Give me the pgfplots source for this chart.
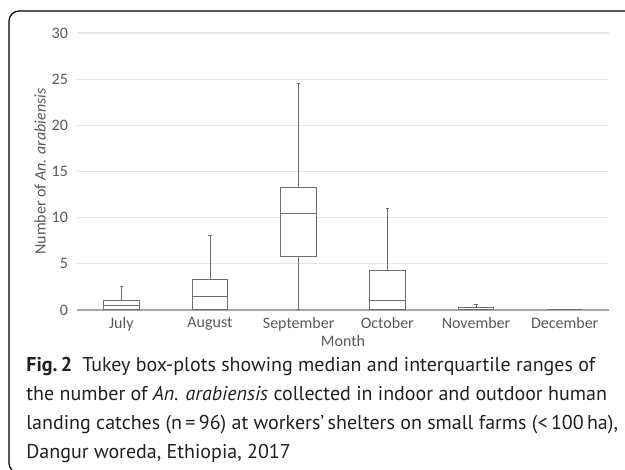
\documentclass[border=0pt]{standalone}
\usepackage{fontspec}
\setmainfont{Carlito}
\newfontfamily\capfont{PT Sans}
\usepackage{pgfplots}
\pgfplotsset{compat=1.18}
\usepgfplotslibrary{statistics}
\definecolor{gridc}{HTML}{E6E6E6}
\definecolor{axc}{HTML}{A6A6A6}
\definecolor{boxc}{HTML}{6E6E6E}
\definecolor{txt}{HTML}{595959}
\definecolor{captxt}{HTML}{231F20}

\begin{document}
\begin{tikzpicture}
\useasboundingbox (0,0) rectangle (312.5pt,235pt);
% rounded frame (left and top edges)
\draw[line width=0.6pt, rounded corners=5pt] (330pt,229.5pt) -- (4.5pt,229.5pt) -- (4.5pt,-1.5pt) -- (30pt,-1.5pt);
\begin{axis}[
  at={(38.5pt,80pt)}, anchor=south west,
  scale only axis, width=266pt, height=138.5pt,
  xmin=-0.5, xmax=5.5, ymin=0, ymax=30,
  ytick={0,5,...,30},
  xtick={0,...,5},
  xticklabels={July,August,September,October,November,December},
  axis lines*=left,
  y axis line style={draw=none},
  x axis line style={draw=axc, line width=0.6pt},
  major tick length=0pt,
  ymajorgrids, grid style={gridc, line width=0.6pt},
  tick label style={font=\fontsize{8}{9}\selectfont, text=txt},
  /pgf/number format/assume math mode=true,
  yticklabel style={xshift=-1pt},
  ylabel={Number of \textit{An. arabiensis}},
  xlabel={Month},
  every axis y label/.style={at={(axis description cs:-0.0695,0.5)},rotate=90,anchor=center,
    font=\fontsize{8}{9}\selectfont, text=txt},
  every axis x label/.style={at={(axis description cs:0.5,0)},anchor=center,yshift=-15.5pt,
    font=\fontsize{8}{9}\selectfont, text=txt},
  boxplot/draw direction=y,
  boxplot/box extend=0.4,
  boxplot/whisker extend=0.04,
  clip=false,
]
% July
\addplot[boxc, fill=white, line width=0.5pt, boxplot prepared={draw position=0,
  lower whisker=0, lower quartile=0, median=0.5, upper quartile=1.0, upper whisker=2.5}] coordinates {};
% August
\addplot[boxc, fill=white, line width=0.5pt, boxplot prepared={draw position=1,
  lower whisker=0, lower quartile=0, median=1.5, upper quartile=3.25, upper whisker=8.1}] coordinates {};
% September
\addplot[boxc, fill=white, line width=0.5pt, boxplot prepared={draw position=2,
  lower whisker=0, lower quartile=5.75, median=10.5, upper quartile=13.25, upper whisker=24.5}] coordinates {};
% October
\addplot[boxc, fill=white, line width=0.5pt, boxplot prepared={draw position=3,
  lower whisker=0, lower quartile=0, median=1.0, upper quartile=4.25, upper whisker=11.0}] coordinates {};
% November
\addplot[boxc, fill=white, line width=0.5pt, boxplot prepared={draw position=4,
  lower whisker=0, lower quartile=0, median=0, upper quartile=0.3, upper whisker=0.6}] coordinates {};
% December
\addplot[boxc, fill=white, line width=0.5pt, boxplot prepared={draw position=5,
  lower whisker=0, lower quartile=0, median=0, upper quartile=0, upper whisker=0}] coordinates {};
\end{axis}
% figure caption
\begin{scope}[every node/.style={anchor=base west, inner sep=0pt, text=captxt, font=\capfont\fontsize{10}{12}\selectfont}]
\node at (13pt,49pt) {\textbf{Fig.\,2}\enspace Tukey box-plots showing median and interquartile ranges of};
\node at (13pt,34.5pt) {the number of \textit{An. arabiensis} collected in indoor and outdoor human};
\node at (13pt,20pt) {landing catches (n\,=\,96) at workers’\,shelters on small farms (<\,100\,ha),};
\node at (13pt,5.5pt) {Dangur woreda, Ethiopia, 2017};
\end{scope}
\end{tikzpicture}
\end{document}
